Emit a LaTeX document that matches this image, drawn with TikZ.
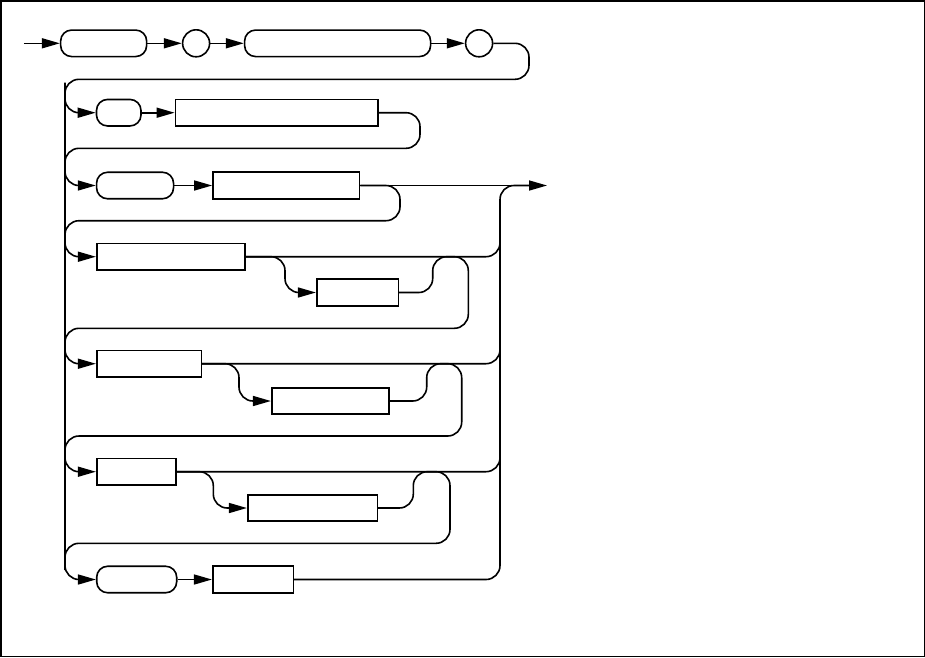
\documentclass[tikz,border=0pt]{standalone}
\usetikzlibrary{arrows.meta,positioning}
\tikzset{
  terminal/.style={rectangle,rounded corners=11pt,draw,line width=1.6pt,
    minimum height=26.5pt,inner sep=0pt},
  simbolo/.style={circle,draw,line width=1.6pt,minimum size=27pt,inner sep=0pt},
  regla/.style={rectangle,draw,line width=1.6pt,minimum height=26.5pt,inner sep=0pt},
  via/.style={line width=1.6pt,rounded corners=14pt},
  flecha/.style={via,-{Triangle[length=18pt,width=10pt]}}
}
\begin{document}
\begin{tikzpicture}[x=1pt,y=-1pt]
\useasboundingbox (0,0) rectangle (925,657);
\draw[line width=1.5pt] (0.75,0.75) rectangle (924.25,656.25);

% 1. Primera fila
\coordinate (entrada) at (23.9,43.3);
\node[terminal,minimum width=86pt] (t1) at (103.65,43.3) {};
\node[simbolo] (c1) at (196.1,43.3) {};
\node[terminal,minimum width=186pt] (t2) at (337.6,43.3) {};
\node[simbolo] (c2) at (479.1,43.3) {};

\draw[flecha] (entrada) -- (t1);
\draw[flecha] (t1) -- (c1);
\draw[flecha] (c1) -- (t2);
\draw[flecha] (t2) -- (c2);

% 2. Segunda y tercera fila
\node[terminal,minimum width=44.5pt] (t3) at (118.75,112.7) {};
\node[regla,minimum width=202.7pt] (n1) at (276.75,112.7) {};
\node[terminal,minimum width=77pt] (t4) at (135.05,185.5) {};
\node[regla,minimum width=146.6pt] (n2) at (286.2,185.5) {};
\coordinate (salida) at (547,185.5);

\draw[flecha] (t3) -- (n1);
\draw[via] (n1.east) -- (420,112.7) -- (420,148.3) -- (65,148.3) -- (65,180);
\draw[flecha] (t4) -- (n2);
\draw[flecha] (n2.east) -- (salida);
\draw[via] (n2.east) -- (400,185.5) -- (400,220.7) -- (65,220.7) -- (65,250);

% 3. Filas con parte opcional
\node[regla,minimum width=148.3pt] (n3) at (170.85,256.7) {};
\node[regla,minimum width=81.6pt] (n4) at (357.5,292.5) {};
\node[regla,minimum width=104.6pt] (n5) at (149,363.7) {};
\node[regla,minimum width=117.3pt] (n6) at (330.35,401) {};
\node[regla,minimum width=79.3pt] (n7) at (136.35,471.7) {};
\node[regla,minimum width=129.6pt] (n8) at (312.5,508) {};

\draw[flecha] (n3.east) -- (285,256.7) -- (285,292.5) -- (n4.west);
\draw[via] (n4.east) -- (432.7,292.5) -- (432.7,256.7) -- (468.3,256.7) -- (468.3,328.3) -- (65,328.3) -- (65,360);
\draw[flecha] (n5.east) -- (239,363.7) -- (239,401) -- (n6.west);
\draw[via] (n6.east) -- (426.7,401) -- (426.7,363.7) -- (461.7,363.7) -- (461.7,436) -- (65,436) -- (65,466);
\draw[flecha] (n7.east) -- (213.3,471.7) -- (213.3,508) -- (n8.west);
\draw[via] (n8.east) -- (413.3,508) -- (413.3,471.7) -- (450,471.7) -- (450,543.3) -- (65,543.3) -- (65,570);

\foreach \n/\y in {t3/112.7,t4/185.5,n3/256.7,n5/363.7,n7/471.7}
  \draw[flecha] (65,\y-30) -- (65,\y) -- (\n.west);
\foreach \n/\y in {n3/256.7,n5/363.7,n7/471.7}
  \draw[via] (\n.east) -- (500,\y) -- (500,\y-30);

% 4. Ultima fila y bus de salida
\node[terminal,minimum width=80pt] (t5) at (136.7,579.5) {};
\node[regla,minimum width=80.6pt] (n9) at (253,579.5) {};

\draw[flecha] (c2.east) -- (529,43.3) -- (529,79.3) -- (65,79.3) -- (65,579.5) -- (t5.west);
\draw[flecha] (t5) -- (n9);
\draw[via] (n9.east) -- (500,579.5) -- (500,185.5) -- (530,185.5);

\end{tikzpicture}
\end{document}
